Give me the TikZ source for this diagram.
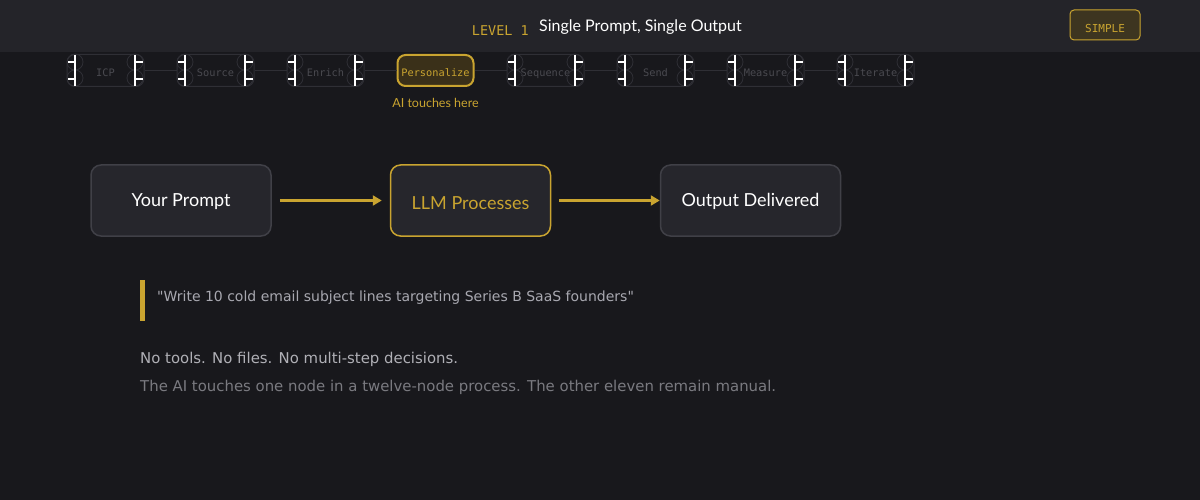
\documentclass[tikz,border=0pt]{standalone}
\usepackage{fontspec}
\setmainfont{Lato}
\newfontfamily\dvs{DejaVu Sans}
\newfontfamily\dvm{DejaVu Sans Mono}
\usetikzlibrary{arrows.meta}
\definecolor{bg}{HTML}{18181C}
\definecolor{hdr}{HTML}{242429}
\definecolor{gold}{HTML}{C9A430}
\definecolor{boxfill}{HTML}{26262C}
\definecolor{boxline}{HTML}{404047}
\definecolor{smline}{HTML}{2F2F35}
\definecolor{smtext}{HTML}{4A4A50}
\definecolor{activefill}{HTML}{3A3019}
\definecolor{badgefill}{HTML}{3D3520}
\definecolor{quotetext}{HTML}{A8A8B0}
\definecolor{bodytext}{HTML}{B0B0B6}
\definecolor{dimtext}{HTML}{7A7A80}
\begin{document}
\begin{tikzpicture}[x=1pt,y=-1pt,
  smallbox/.style={draw=smline, line width=1pt, rounded corners=8pt, minimum width=77pt, minimum height=32pt, inner sep=0pt, text height=12.5pt, text depth=0pt, text=smtext, font=\dvm\fontsize{10.3}{12}\selectfont},
  activebox/.style={draw=gold, fill=activefill, line width=2pt, rounded corners=8pt, minimum width=76pt, minimum height=31pt, inner sep=0pt, text height=12.5pt, text depth=0pt, text=gold, font=\dvm\fontsize{10.3}{12}\selectfont},
  smconn/.style={draw=smline, line width=1pt},
  port/.style={draw=white, line width=1.3pt},
  portring/.style={draw=smline, line width=0.8pt},
  bigbox/.style={draw=boxline, fill=boxfill, line width=1.5pt, rounded corners=10pt, minimum width=180pt, minimum height=71pt, inner sep=0pt, text height=12pt, text depth=0pt, text=white, font=\fontsize{18}{21}\selectfont},
  goldbox/.style={bigbox, draw=gold, text=gold, minimum width=160pt, text height=18pt},
  flow/.style={draw=gold, line width=2.5pt, -{Triangle[length=9pt,width=10pt]}},
]
\fill[bg] (0,0) rectangle (1200,500);
\useasboundingbox (0,0) rectangle (1200,500);
\fill[hdr] (0,0) rectangle (1200,52);

% header
\node[anchor=base east, inner sep=0pt, text=gold, font=\dvm\fontsize{13.5}{15}\selectfont] (lvl) at (529,36) {LEVEL 1};
\node[anchor=base west, inner sep=0pt, text=white, font=\fontsize{16}{19}\selectfont] (title) at (539,32) {Single Prompt, Single Output};
\node[draw=gold, fill=badgefill, line width=1pt, rounded corners=4pt, minimum width=70pt, minimum height=30pt, inner sep=0pt, text height=16pt, text depth=0pt, text=gold, font=\dvm\fontsize{11}{12}\selectfont] (badge) at (1105,25) {SIMPLE};

% pipeline of small nodes
\foreach \i/\x/\t in {1/105.5/ICP, 2/215.5/Source, 3/325.5/Enrich, 5/545.5/Sequence, 6/655.5/Send, 7/765.5/Measure, 8/875.5/Iterate}{
  \node[smallbox] (s\i) at (\x,70.5) {\t};
  \draw[portring] ({\x-30.5},62) circle (8pt) ({\x-30.5},78) circle (8pt) ({\x+29.5},62) circle (8pt) ({\x+29.5},78) circle (8pt);
  \draw[port] ({\x-30.5},55) -- ({\x-30.5},86) ({\x-37.5},62) -- ({\x-30.5},62) ({\x-37.5},79) -- ({\x-30.5},79);
  \draw[port] ({\x+29.5},55) -- ({\x+29.5},86) ({\x+29.5},62) -- ({\x+37.5},62) ({\x+29.5},79) -- ({\x+37.5},79);
}
\node[activebox] (s4) at (435.5,70.5) {Personalize};
\foreach \a/\b in {1/2,2/3,3/4,4/5,5/6,6/7,7/8}{
  \draw[smconn] (s\a.east) -- (s\b.west);
}
\node[text=gold, inner sep=0pt, font=\fontsize{12.5}{14}\selectfont] (note) at (435.5,103) {AI touches here};

% main flow
\node[bigbox] (prompt) at (181,200.5) {Your Prompt};
\node[goldbox] (llm) at (470.5,200.5) {LLM Processes};
\node[bigbox] (out) at (750.5,200.5) {Output Delivered};
\draw[flow] ([xshift=8pt]prompt.east) -- ([xshift=-8pt]llm.west);
\draw[flow] ([xshift=8pt]llm.east) -- (out.west);

% quote and text
\fill[gold] (140,280) rectangle (145,321);
\node[anchor=base west, inner sep=0pt, text=quotetext, font=\dvs\fontsize{14}{16}\selectfont] (quote) at (157,301) {"Write 10 cold email subject lines targeting Series B SaaS founders"};
\node[anchor=base west, inner sep=0pt, text=bodytext, font=\dvs\fontsize{14.9}{17}\selectfont] (l1) at (140,363) {No tools. No files. No multi-step decisions.};
\node[anchor=base west, inner sep=0pt, text=dimtext, font=\dvs\fontsize{14.9}{17}\selectfont] (l2) at (140,391) {The AI touches one node in a twelve-node process. The other eleven remain manual.};
\end{tikzpicture}
\end{document}
